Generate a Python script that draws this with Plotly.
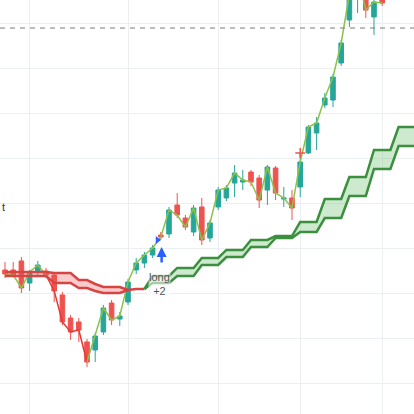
"""Candles with a trailing stop band, long entry marked."""

import plotly.graph_objects as go

# one entry per bar
bars = list(range(47))
opens = [112.56, 112.56, 113.56, 111.11, 112.33, 112.44, 112.0, 109.78, 107.22, 106.78,
         104.56, 103.67, 105.67, 108.89, 107.11, 109.0, 112.56, 113.33, 114.22, 116.44,
         116.56, 119.78, 118.33, 116.78, 119.56, 116.11, 119.56, 120.56, 122.22, 122.33,
         123.44, 122.78, 121.44, 123.89, 120.44, 120.56, 121.78, 125.56, 127.78, 130.89,
         131.44, 135.56, 140.33, 143.11, 143.11, 140.67, 143.11]
highs = [113.44, 113.44, 114.0, 112.56, 113.56, 112.78, 112.33, 110.11, 107.56, 107.22,
         104.89, 105.56, 108.67, 109.22, 107.89, 111.56, 113.89, 114.56, 115.33, 116.78,
         119.56, 121.11, 118.67, 119.78, 120.56, 118.11, 121.78, 122.0, 124.22, 123.67,
         123.67, 123.11, 124.22, 124.11, 121.78, 121.44, 125.56, 128.67, 129.56, 132.22,
         134.33, 138.11, 143.67, 145.67, 143.67, 142.89, 143.67]
lows = [111.67, 111.78, 110.0, 110.22, 111.89, 111.67, 109.0, 106.44, 104.78, 104.56,
        101.78, 102.33, 105.33, 106.44, 106.33, 108.67, 112.11, 112.78, 113.89, 115.89,
        116.11, 118.33, 117.0, 116.33, 115.33, 115.67, 119.22, 120.22, 120.67, 121.44,
        121.89, 119.44, 119.78, 120.33, 119.56, 118.11, 120.67, 125.44, 125.89, 130.56,
        130.67, 135.22, 139.56, 141.11, 140.56, 138.67, 141.89]
closes = [112.11, 112.0, 110.56, 112.33, 113.11, 112.0, 110.22, 106.78, 105.67, 105.89,
          102.33, 105.22, 108.33, 107.0, 107.44, 111.22, 113.33, 114.22, 115.0, 116.22,
          119.22, 118.67, 117.33, 119.44, 115.89, 117.78, 121.44, 121.67, 123.33, 122.56,
          122.33, 120.33, 124.0, 121.11, 120.56, 119.44, 124.56, 128.44, 128.89, 131.67,
          134.0, 137.78, 143.22, 145.33, 141.44, 142.33, 142.22]

# close line is red on the down leg
down_leg = (5, 10)

# short side band, then its flat tail
red_idx = list(range(16))
red_upper = [112.33] * 6 + [112.22, 112.22, 112.22, 111.44, 111.44, 111.0, 110.67, 110.67, 110.67, 110.33]
red_lower = [111.89] * 6 + [111.11, 111.11, 111.11, 110.56, 110.56, 110.22, 110.0, 110.0, 110.0, 110.33]
red_tail_idx = [15, 16, 17]
red_tail = [110.33, 110.44, 110.44]

# long side band, runs a few bars past the last candle
green_idx = list(range(17, 51))
green_upper = ([110.44] + [111.89] * 3 + [112.78] * 3 + [113.89] * 3 + [114.78] * 3 + [115.89] * 3
               + [116.33] * 3 + [117.89] * 3 + [120.44] * 3 + [122.89] * 3 + [125.89] * 3 + [128.44] * 3)
green_lower = ([110.44] + [111.11] * 3 + [111.89] * 3 + [113.11] * 3 + [114.0] * 3 + [115.11] * 3
               + [116.11] * 3 + [116.78] * 3 + [118.33] * 3 + [120.78] * 3 + [123.78] * 3 + [126.33] * 3)

target_level = 139.44
grid_bars = [3, 15, 26, 36, 46]
entry_bar = 19
entry_label = "long<br>+2"
marker_bar = 18.6
marker_price = 115.89
cross_bar = 36
cross_price = 125.56

UP = "#26a69a"
DOWN = "#ef5350"

fig = go.Figure()

# close line, mostly behind the candles
segments = [(0, down_leg[0], "#8bc34a"), (down_leg[0], down_leg[1], "#e53935"),
            (down_leg[1], len(bars) - 1, "#8bc34a")]
for a, b, col in segments:
    fig.add_trace(go.Scatter(x=bars[a:b + 1], y=closes[a:b + 1], mode="lines",
                             line=dict(color=col, width=1.5), hoverinfo="skip"))

fig.add_trace(go.Candlestick(
    x=bars, open=opens, high=highs, low=lows, close=closes,
    increasing=dict(line=dict(color=UP, width=1), fillcolor=UP),
    decreasing=dict(line=dict(color=DOWN, width=1), fillcolor=DOWN),
))

# bands
fig.add_trace(go.Scatter(x=red_idx, y=red_upper, mode="lines",
                         line=dict(color="#d84343", width=2.5)))
fig.add_trace(go.Scatter(x=red_idx, y=red_lower, mode="lines", fill="tonexty",
                         fillcolor="rgba(239,83,80,0.3)", line=dict(color="#d84343", width=2.5)))
fig.add_trace(go.Scatter(x=red_tail_idx, y=red_tail, mode="lines",
                         line=dict(color="#d84343", width=2.5)))
fig.add_trace(go.Scatter(x=green_idx, y=green_upper, mode="lines",
                         line=dict(color="#3b8f3e", width=2.5)))
fig.add_trace(go.Scatter(x=green_idx, y=green_lower, mode="lines", fill="tonexty",
                         fillcolor="rgba(129,199,132,0.4)", line=dict(color="#3b8f3e", width=2.5)))

# signal markers
fig.add_trace(go.Scatter(x=[marker_bar], y=[marker_price], mode="markers",
                         marker=dict(symbol="triangle-right", size=7, color="#2962ff")))
fig.add_trace(go.Scatter(x=[cross_bar], y=[cross_price], mode="markers",
                         marker=dict(symbol="cross-thin", size=7,
                                     line=dict(color=DOWN, width=1.5))))

fig.add_hline(y=target_level, line=dict(color="#7a7a7a", width=1, dash="5px,5px"))

fig.add_annotation(x=entry_bar + 0.1, y=115.11, ax=0, ay=17, showarrow=True,
                   arrowhead=2, arrowsize=0.8, arrowwidth=2.5, arrowcolor="#2962ff", text="")
fig.add_annotation(x=entry_bar - 0.2, y=111.0, text=entry_label, showarrow=False,
                   bgcolor="rgba(255,255,255,0.55)", borderpad=0,
                   font=dict(family="Arial", size=11, color="#555555"))
fig.add_annotation(xref="paper", x=0.0, xanchor="left", y=119.56, text="t", showarrow=False,
                   font=dict(family="Arial", size=11, color="#333333"))

fig.update_xaxes(range=[-0.61, 49.88], tickvals=grid_bars, showticklabels=False,
                 showgrid=True, gridcolor="#eceff2", zeroline=False,
                 rangeslider=dict(visible=False), ticks="")
fig.update_yaxes(range=[96.556, 142.556], tick0=100, dtick=5, showticklabels=False,
                 showgrid=True, gridcolor="#eceff2", zeroline=False, ticks="")
fig.update_layout(width=414, height=414, margin=dict(l=0, r=0, t=0, b=0), boxgap=0.2,
                  showlegend=False, plot_bgcolor="white", paper_bgcolor="white")

fig.write_html("out.html", config={"displayModeBar": False},
               post_script="document.body.style.margin = '0';")
